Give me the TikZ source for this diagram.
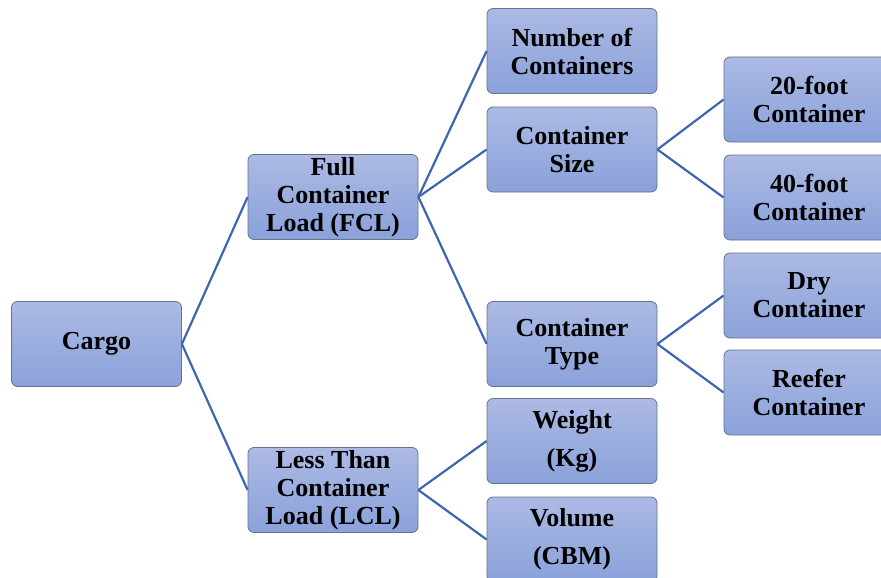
\documentclass[tikz,border=0pt]{standalone}
\usepackage{fontspec}
\newfontfamily\tnr{Liberation Serif}
\definecolor{boxtop}{HTML}{ACBAE4}
\definecolor{boxbot}{HTML}{8AA1DA}
\definecolor{boxedge}{HTML}{66738A}
\definecolor{linkc}{HTML}{3E65B2}
\tikzset{
  cbox/.style={rectangle, rounded corners=6pt, draw=boxedge, line width=0.8pt,
    top color=boxtop, bottom color=boxbot, minimum width=170pt, minimum height=85pt,
    inner sep=0pt, align=center, font=\tnr\bfseries\fontsize{26}{28}\selectfont},
  wbox/.style={cbox, font=\tnr\bfseries\fontsize{26}{38}\selectfont},
  link/.style={draw=linkc, line width=2.2pt}
}
\begin{document}
\begin{tikzpicture}[x=1pt,y=-1pt]
\path[use as bounding box] (0,0) rectangle (881,578);
\begin{scope}
\clip (0,0) rectangle (881,578);
\node[cbox] (cargo) at (96.5,344) {Cargo};
\node[cbox] (fcl) at (333,197) {Full\\Container\\Load (FCL)};
\node[cbox] (lcl) at (333,490) {Less Than\\Container\\Load (LCL)};
\node[cbox] (num) at (572,51) {Number of\\Containers};
\node[cbox] (size) at (572,149.5) {Container\\Size};
\node[cbox] (type) at (572,344) {Container\\Type};
\node[wbox] (weight) at (572,441) {Weight\\(Kg)};
\node[wbox] (volume) at (572,539.5) {Volume\\(CBM)};
\node[cbox] (f20) at (809,99.5) {20-foot\\Container};
\node[cbox] (f40) at (809,197.5) {40-foot\\Container};
\node[cbox] (dry) at (809,295.5) {Dry\\Container};
\node[cbox] (reefer) at (809,392.5) {Reefer\\Container};
\draw[link] (cargo.east) -- (fcl.west);
\draw[link] (cargo.east) -- (lcl.west);
\draw[link] (fcl.east) -- (num.west);
\draw[link] (fcl.east) -- (size.west);
\draw[link] (fcl.east) -- (type.west);
\draw[link] (lcl.east) -- (weight.west);
\draw[link] (lcl.east) -- (volume.west);
\draw[link] (size.east) -- (f20.west);
\draw[link] (size.east) -- (f40.west);
\draw[link] (type.east) -- (dry.west);
\draw[link] (type.east) -- (reefer.west);
\end{scope}
\end{tikzpicture}
\end{document}
